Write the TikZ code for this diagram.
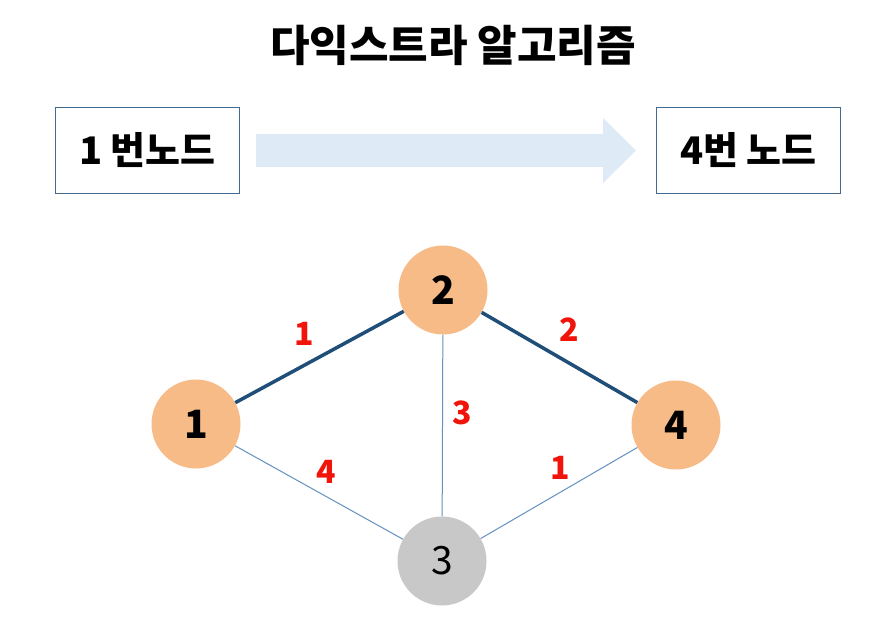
\documentclass[tikz,border=0pt]{standalone}
\usepackage{fontspec}
\setmainfont{Noto Sans CJK KR}
\usetikzlibrary{positioning}
\definecolor{boxline}{RGB}{65,105,145}
\definecolor{arrowfill}{RGB}{222,235,247}
\definecolor{orangefill}{RGB}{247,187,135}
\definecolor{grayfill}{RGB}{200,200,200}
\definecolor{thickedge}{RGB}{31,78,121}
\definecolor{thinedge}{RGB}{100,145,190}
\definecolor{lblred}{RGB}{240,20,10}
\tikzset{
  x=1pt,y=-1pt,
  graphnode/.style={circle,minimum size=89pt,inner sep=0pt,font=\fontsize{39}{39}\selectfont\bfseries},
  orangenode/.style={graphnode,fill=orangefill},
  graynode/.style={graphnode,fill=grayfill,font=\fontsize{39}{39}\selectfont},
  labelbox/.style={draw=boxline,line width=1.8pt,minimum width=184pt,minimum height=86pt,inner sep=0pt,font=\fontsize{38}{38}\selectfont\bfseries},
  heavyedge/.style={draw=thickedge,line width=3.5pt},
  lightedge/.style={draw=thinedge,line width=1pt},
  weight/.style={text=lblred,font=\fontsize{32}{32}\selectfont\bfseries,inner sep=0pt}
}
\begin{document}
\begin{tikzpicture}
\useasboundingbox (0,0) rectangle (881,628);
\fill[white] (0,0) rectangle (881,628);
\node[font=\fontsize{43}{43}\selectfont\bfseries] (title) at (453,45) {다익스트라 알고리즘};
\node[labelbox] (src) at (147.5,150.5) {1 번노드};
\node[labelbox] (dst) at (748.5,150.5) {4번 노드};
\fill[arrowfill] (256,134) -- (603,134) -- (603,118) -- (636,150.5) -- (603,183) -- (603,167) -- (256,167) -- cycle;
\node[orangenode] (n1) at (196,424) {1};
\node[orangenode] (n2) at (443,290) {2};
\node[orangenode] (n4) at (676,425) {4};
\node[graynode] (n3) at (442,561) {3};
\draw[heavyedge] (n1) -- (n2);
\draw[heavyedge] (n2) -- (n4);
\draw[lightedge] (n1) -- (n3);
\draw[lightedge] (n2) -- (n3);
\draw[lightedge] (n4) -- (n3);
\node[weight] (w12) at (304,334) {1};
\node[weight] (w24) at (569,330) {2};
\node[weight] (w23) at (462,413) {3};
\node[weight] (w13) at (326,472) {4};
\node[weight] (w34) at (560,468) {1};
\end{tikzpicture}
\end{document}
